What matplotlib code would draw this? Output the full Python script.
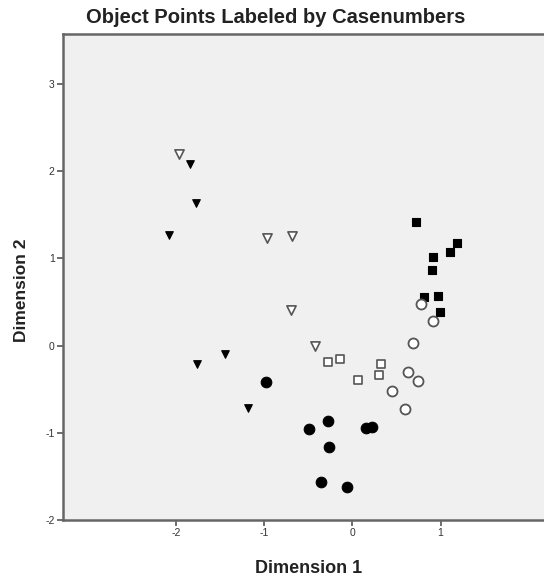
import matplotlib.pyplot as plt

plt.rcParams['font.family'] = ['Liberation Sans', 'DejaVu Sans']
plt.rcParams['axes.unicode_minus'] = False

# object scores per group (dimension 1, dimension 2)
tri_fill_x = [-1.84, -1.77, -2.08, -1.76, -1.44, -1.18]
tri_fill_y = [2.08, 1.63, 1.27, -0.21, -0.10, -0.72]

tri_open_x = [-1.97, -0.97, -0.68, -0.70, -0.42]
tri_open_y = [2.19, 1.23, 1.26, 0.41, 0.00]

sq_open_x = [-0.28, -0.14, 0.07, 0.32, 0.30]
sq_open_y = [-0.19, -0.15, -0.40, -0.21, -0.34]

sq_fill_x = [0.72, 1.19, 1.11, 0.92, 0.90, 0.81, 0.97, 0.99]
sq_fill_y = [1.42, 1.18, 1.07, 1.01, 0.87, 0.56, 0.57, 0.38]

circ_open_x = [0.78, 0.91, 0.69, 0.63, 0.75, 0.45, 0.60]
circ_open_y = [0.48, 0.28, 0.03, -0.30, -0.41, -0.52, -0.73]

circ_fill_x = [-0.98, -0.49, -0.27, -0.26, -0.35, -0.06, 0.16, 0.22]
circ_fill_y = [-0.42, -0.96, -0.87, -1.16, -1.56, -1.62, -0.94, -0.93]

x_ticks = [-2, -1, 0, 1]
y_ticks = [-2, -1, 0, 1, 2, 3]

fig = plt.figure(figsize=(5.44, 5.80), dpi=100)
ax = fig.add_axes([0.1158, 0.1034, 0.895, 0.838])
ax.set_facecolor('#f0f0f0')

edge = '#555555'
ax.scatter(tri_fill_x, tri_fill_y, marker='v', s=30, c='black', edgecolors='black', linewidths=0.8, zorder=3)
ax.scatter(tri_open_x, tri_open_y, marker='v', s=44, facecolors='white', edgecolors=edge, linewidths=1.2, zorder=3)
ax.scatter(sq_open_x, sq_open_y, marker='s', s=32, facecolors='white', edgecolors=edge, linewidths=1.2, zorder=3)
ax.scatter(sq_fill_x, sq_fill_y, marker='s', s=36, c='black', edgecolors='black', linewidths=0.8, zorder=3)
ax.scatter(circ_open_x, circ_open_y, marker='o', s=52, facecolors='white', edgecolors=edge, linewidths=1.3, zorder=3)
ax.scatter(circ_fill_x, circ_fill_y, marker='o', s=58, c='black', edgecolors='black', linewidths=0.8, zorder=3)

ax.set_xlim(-3.28, 2.24)
ax.set_ylim(-2, 3.57)
ax.set_xticks(x_ticks)
ax.set_yticks(y_ticks)
ax.tick_params(direction='out', length=4, width=1.2, color='#555555',
               labelsize=7.5, labelcolor='#333333', pad=2)

for side in ['left', 'bottom', 'top']:
    ax.spines[side].set_color('#666666')
    ax.spines[side].set_linewidth(1.8)
ax.spines['right'].set_visible(False)

fig.text(0.506, 0.969, 'Object Points Labeled by Casenumbers', ha='center', va='center',
         fontsize=14.5, fontweight='bold', color='#222222')
fig.text(0.568, 0.020, 'Dimension 1', ha='center', va='center',
         fontsize=13, fontweight='bold', color='#222222')
fig.text(0.040, 0.500, 'Dimension 2', ha='center', va='center', rotation=90,
         fontsize=12.5, fontweight='bold', color='#222222')

fig.savefig('out.png', dpi=100, facecolor='white')
